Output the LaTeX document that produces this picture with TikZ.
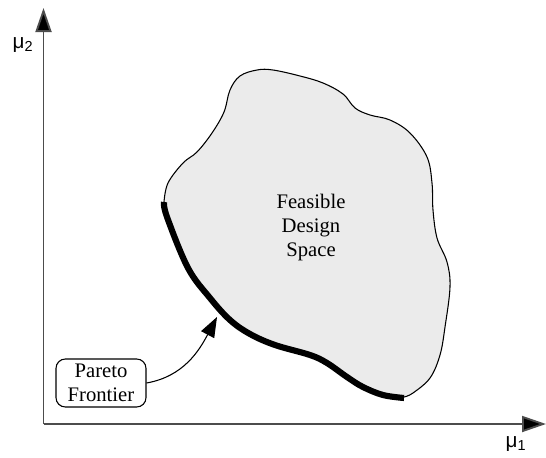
\documentclass[tikz,border=0pt]{standalone}
\usepackage{fontspec}
\setmainfont{Liberation Serif}
\newfontfamily\axfont{Liberation Sans}
\usetikzlibrary{arrows.meta}
\begin{document}
\begin{tikzpicture}[x=0.75pt,y=-0.75pt,
  axis/.style={line width=1.4pt, draw=black!70, -{Triangle[length=18pt,width=12pt,fill=black]}},
  blobline/.style={line width=0.8pt, draw=black},
  frontier/.style={line width=4.6pt, line cap=butt, draw=black},
  labelbox/.style={draw=black, line width=0.8pt, rounded corners=7pt, fill=white, align=center,
    font=\fontsize{15.5}{18}\selectfont, inner xsep=3pt, inner ysep=2pt, minimum width=67.5pt, minimum height=36pt},
  maintext/.style={align=center, font=\fontsize{15.5}{18}\selectfont},
  axlabel/.style={font=\axfont\fontsize{15.5}{18}\selectfont},
  callout/.style={line width=0.8pt, -{Triangle[length=15pt,width=11pt]}}]
\useasboundingbox (0,0) rectangle (546,457);
% feasible region
\fill[black!8] plot[smooth cycle, tension=0.6] coordinates {
 (164,202) (168,183) (183,163) (197,152) (212,133) (224,112) (230,90) (240,76)
 (257,70) (273,70) (300,76) (323,83) (343,94) (355,108) (370,115) (390,120)
 (410,133) (427,157) (432,183) (433,210) (437,238) (447,262) (450,287) (445,327)
 (440,355) (430,378) (413,393) (404,397) (383,395) (363,387) (347,377) (327,363)
 (310,355) (275,345) (250,334) (230,320) (210,298) (188,268) (167,217)};
\draw[blobline] plot[smooth, tension=0.6] coordinates {
 (164,202) (168,183) (183,163) (197,152) (212,133) (224,112) (230,90) (240,76)
 (257,70) (273,70) (300,76) (323,83) (343,94) (355,108) (370,115) (390,120)
 (410,133) (427,157) (432,183) (433,210) (437,238) (447,262) (450,287) (445,327)
 (440,355) (430,378) (413,393) (404,397)};
\draw[frontier] plot[smooth, tension=0.6] coordinates {
 (164,202) (167,217) (188,268) (210,298) (230,320) (250,334) (275,345)
 (310,355) (327,363) (347,377) (363,387) (383,395) (404,398)};
% axes
\coordinate (origin) at (43.5,424);
\coordinate (ytip) at (43.5,8);
\coordinate (xtip) at (546,424);
\draw[axis] (origin) -- (ytip);
\draw[axis] (origin) -- (xtip);
\node[axlabel] (mu2) at (23,45) {μ\textsubscript{2}};
\node[axlabel] (mu1) at (516,444) {μ\textsubscript{1}};
% text
\node[maintext] (fds) at (311,228) {Feasible\\Design\\Space};
\node[labelbox] (pf) at (101,383) {Pareto\\Frontier};
\coordinate (ptip) at (217,317);
\draw[callout] (pf.east) to[out=10,in=-118] (ptip);
\end{tikzpicture}
\end{document}
